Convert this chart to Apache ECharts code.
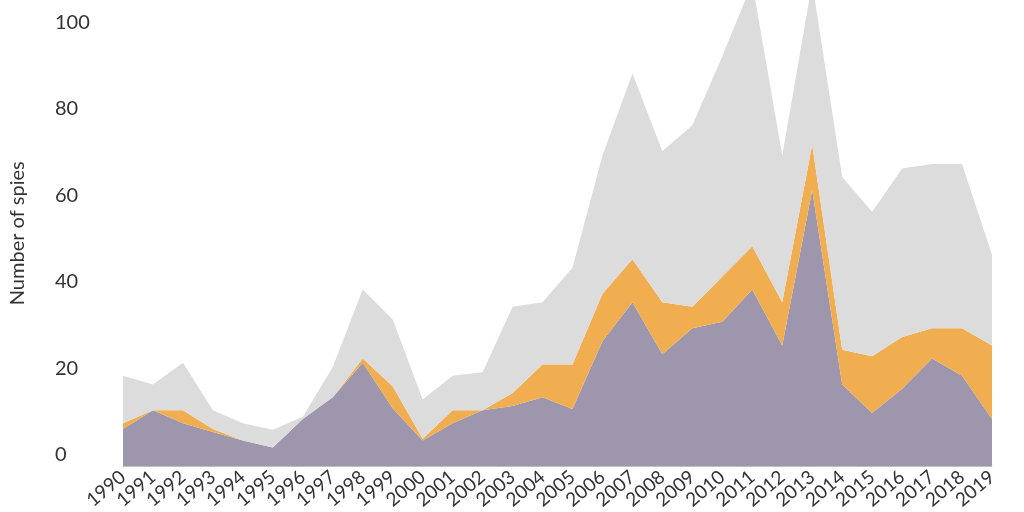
<!DOCTYPE html><html><head><meta charset="utf-8">
<script src="https://cdn.jsdelivr.net/npm/echarts@6/dist/echarts.min.js"></script>
<style>html,body{margin:0;background:#fff}#c{width:1024px;height:512px}</style></head><body><div id="c"></div><script>
const years=[];for(let y=1990;y<=2019;y++)years.push(String(y));
const purple=[8.7,13,10,8,6,4.4,11,16,24,13.5,6,10,13,14,16,13.3,29,38,26,32,33.5,41,28,64,19,12.4,18,25,21,11];
const orange=[1.3,0,3,0.7,0,0,0,0,1,5.1,0.4,3,0,3,7.6,10.3,11,10,12,5,10.5,10,10,10.5,8,13.1,12,7,11,17];
const gray=[11,6,11,4.3,4,4.1,0.5,7,16,15.4,9.1,8,8.8,20,14.4,22.4,32,43,35,42,51,61,34,37.5,40,33.5,39,38,38,21];
const mk=(d,c)=>({type:'line',stack:'s',data:d,symbol:'none',lineStyle:{width:0},areaStyle:{color:c,opacity:1},itemStyle:{color:c}});
const ch=echarts.init(document.getElementById('c'));
ch.setOption({animation:false,textStyle:{fontFamily:'Lato'},
grid:{left:113,right:32,top:0,bottom:41},
xAxis:{type:'category',data:years,boundaryGap:false,axisTick:{show:false},axisLine:{lineStyle:{color:'#ccc'}},
 axisLabel:{rotate:40,fontSize:19,color:'#333',margin:8,interval:0}},
yAxis:{type:'value',min:0,max:108,interval:20,splitLine:{show:false},
 axisLabel:{align:'left',margin:68,verticalAlign:'bottom',padding:[0,0,2,0],fontSize:20,color:'#333',showMaxLabel:false,formatter:v=>v>100?'':v},
 name:'Number of spies',nameLocation:'middle',nameGap:95,nameTextStyle:{fontSize:20,color:'#333'}},
series:[mk(purple,'#9d96ad'),mk(orange,'#f0ae50'),mk(gray,'#dcdcdc')]});
</script></body></html>
